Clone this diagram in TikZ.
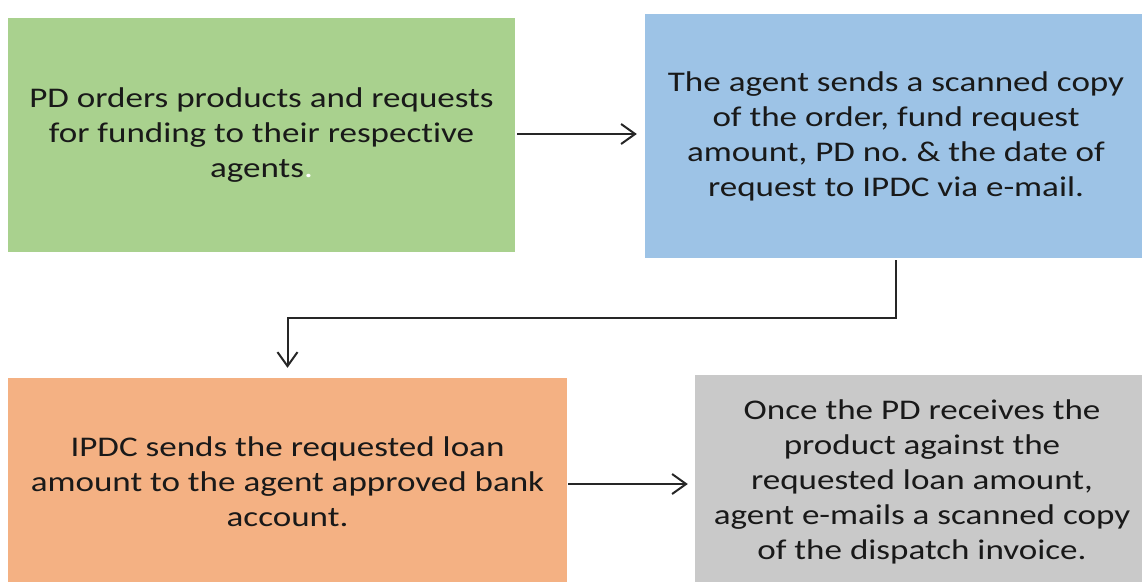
\documentclass[tikz,border=0pt]{standalone}
\usepackage{fontspec}
\setmainfont{Carlito}[FakeStretch=1.23,Ligatures=NoCommon]
\usepackage{tikz}
\usetikzlibrary{arrows.meta}

\definecolor{boxgreen}{HTML}{A9D18E}
\definecolor{boxblue}{HTML}{9DC3E6}
\definecolor{boxorange}{HTML}{F4B183}
\definecolor{boxgray}{HTML}{C9C9C9}

\tikzset{
	box/.style={shape=rectangle,draw=none,inner sep=0pt,align=center,
		font=\fontsize{28.5}{35}\selectfont,text=black!90},
	flow/.style={draw=black!85,line width=2pt,-{Straight Barb[length=14pt,width=20pt,line width=2pt]}}
}

\begin{document}
\begin{tikzpicture}[x=1pt,y=-1pt]
	
	\useasboundingbox (0,0) rectangle (1142,581);
	
	\node[box,fill=boxgreen,minimum width=507pt,minimum height=234pt] (pd) at (261.5, 135)
		{PD orders products and requests\\for funding to their respective\\agents{\color{white}.}};
	\node[box,fill=boxblue,minimum width=502pt,minimum height=244pt] (agent) at (896, 136)
		{The agent sends a scanned copy\\of the order, fund request\\amount, PD no.\ \& the date of\\request to IPDC via e-mail.};
	\node[box,fill=boxorange,minimum width=559pt,minimum height=208pt] (ipdc) at (287.5, 482)
		{IPDC sends the requested loan\\amount to the agent approved bank\\account.};
	\node[box,fill=boxgray,minimum width=454pt,minimum height=214pt] (invoice) at (922, 482)
		{Once the PD receives the\\product against the\\requested loan amount,\\agent e-mails a scanned copy\\of the dispatch invoice.};
	
	\draw[flow,shorten <=2pt,shorten >=8pt] (pd.east |- 0,134) -- (agent.west |- 0,134);
	\draw[flow,shorten <=2pt,shorten >=10pt] (agent.south) -- ++(0,60) -| (ipdc.north);
	\draw[flow,shorten <=1pt,shorten >=7pt] (ipdc.east |- 0,484) -- (invoice.west |- 0,484);
	
\end{tikzpicture}
\end{document}
